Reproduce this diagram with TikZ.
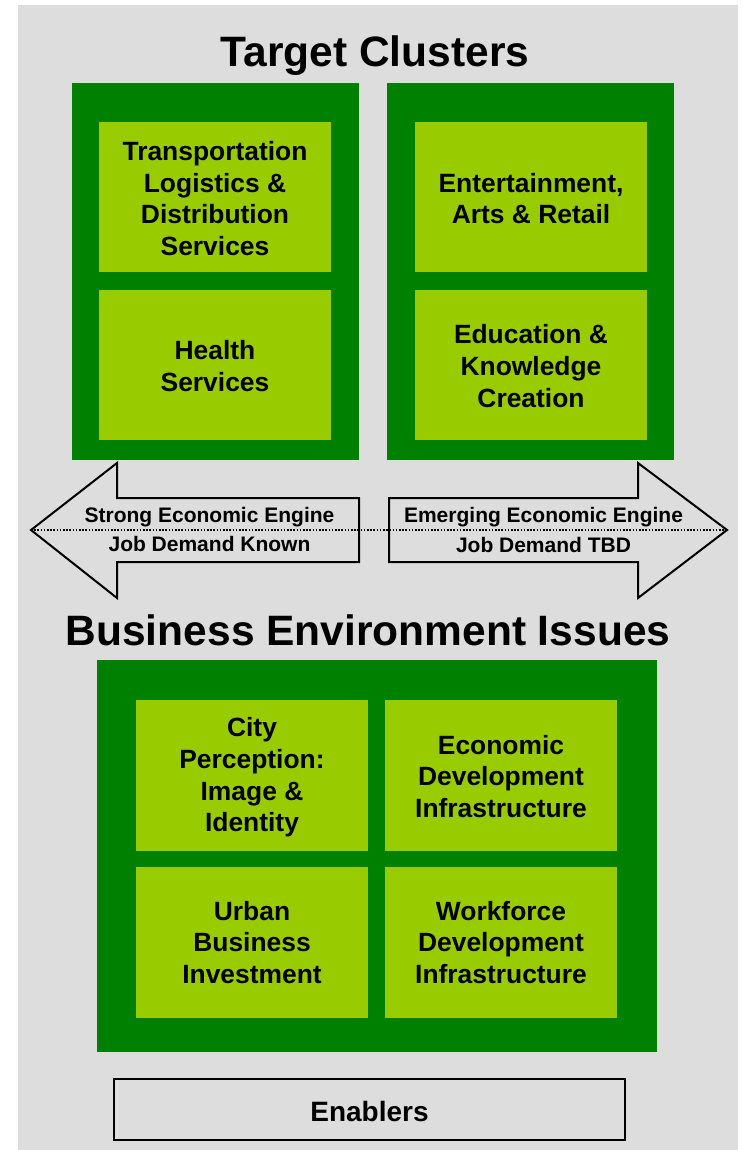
\documentclass[tikz,border=0pt]{standalone}
\usepackage{fontspec}
\setmainfont{Liberation Sans}
\definecolor{bggray}{HTML}{DDDDDD}
\definecolor{darkgreen}{HTML}{008000}
\definecolor{lightgreen}{HTML}{99CC00}
\tikzset{
  outerbox/.style={fill=darkgreen, draw=none, inner sep=0pt},
  innerbox/.style={fill=lightgreen, draw=none, minimum width=232pt, minimum height=150pt, inner sep=0pt},
  boxtext/.style={inner sep=0pt, align=center, font=\fontsize{26.4}{31.7}\selectfont\bfseries},
  titletext/.style={font=\fontsize{42.5}{50}\selectfont\bfseries, inner sep=0pt, anchor=base},
  arrowtext/.style={font=\fontsize{21}{25}\selectfont\bfseries, inner sep=0pt, anchor=base},
  bigarrow/.style={draw=black, line width=2pt, fill=bggray, line join=miter},
  enablerbox/.style={draw=black, line width=2pt, fill=bggray, minimum width=511pt, minimum height=61pt, inner sep=0pt},
}
\begin{document}
\begin{tikzpicture}[x=1pt, y=-1pt]
\useasboundingbox (0,0) rectangle (742,1150);
\fill[bggray] (18,5) rectangle (738,1150);

\node[titletext] (t1) at (375,67) {Target Clusters};

\node[outerbox, minimum width=287pt, minimum height=377pt] (lg) at (215.5,271.5) {};
\node[outerbox, minimum width=287pt, minimum height=377pt] (rg) at (530.5,271.5) {};

\node[innerbox] (tl) at (215,197) {};
\node[innerbox] (hs) at (215,365) {};
\node[innerbox] (ea) at (531,197) {};
\node[innerbox] (ed) at (531,365) {};
\node[boxtext] (tlt) at ([yshift=-1.5pt]tl.center) {Transportation\\Logistics \&\\Distribution\\Services};
\node[boxtext] (hst) at ([yshift=-1pt]hs.center) {Health\\Services};
\node[boxtext] (eat) at ([yshift=-1.5pt]ea.center) {Entertainment,\\Arts \& Retail};
\node[boxtext] (edt) at ([yshift=-1pt]ed.center) {Education \&\\Knowledge\\Creation};

% arrows
\coordinate (la) at (31,530);
\coordinate (ra) at (727,530);
\draw[bigarrow] (la) -- (117,463) -- (117,498) -- (359,498) -- (359,562) -- (117,562) -- (117,598) -- cycle;
\draw[bigarrow] (389,498) -- (638,498) -- (638,463) -- (ra) -- (638,598) -- (638,562) -- (389,562) -- cycle;
\draw[black, line width=1.6pt, dash pattern=on 1.6pt off 1.6pt] (la) -- (ra);

\node[arrowtext] (s1) at (209.5,522) {Strong Economic Engine};
\node[arrowtext] (s2) at (209.5,551) {Job Demand Known};
\node[arrowtext] (e1) at (543.5,522) {Emerging Economic Engine};
\node[arrowtext] (e2) at (543.5,552) {Job Demand TBD};

\node[titletext] (t2) at (368,645) {Business Environment Issues};

\node[outerbox, minimum width=560pt, minimum height=392pt] (bg) at (377,856) {};
\node[innerbox, minimum height=151pt] (cp) at (252,775.5) {};
\node[innerbox, minimum height=151pt] (edi) at (501,775.5) {};
\node[innerbox, minimum height=151pt] (ub) at (252,942.5) {};
\node[innerbox, minimum height=151pt] (wd) at (501,942.5) {};
\node[boxtext] (cpt) at ([yshift=-2pt]cp.center) {City\\Perception:\\Image \&\\Identity};
\node[boxtext] (edit) at ([yshift=-1pt]edi.center) {Economic\\Development\\Infrastructure};
\node[boxtext] (ubt) at (ub.center) {Urban\\Business\\Investment};
\node[boxtext] (wdt) at (wd.center) {Workforce\\Development\\Infrastructure};

\node[enablerbox] (en) at (369.5,1109.5) {};
\node[inner sep=0pt, font=\fontsize{28}{33}\selectfont\bfseries, anchor=base] (ent) at (369.5,1121) {Enablers};
\end{tikzpicture}
\end{document}
